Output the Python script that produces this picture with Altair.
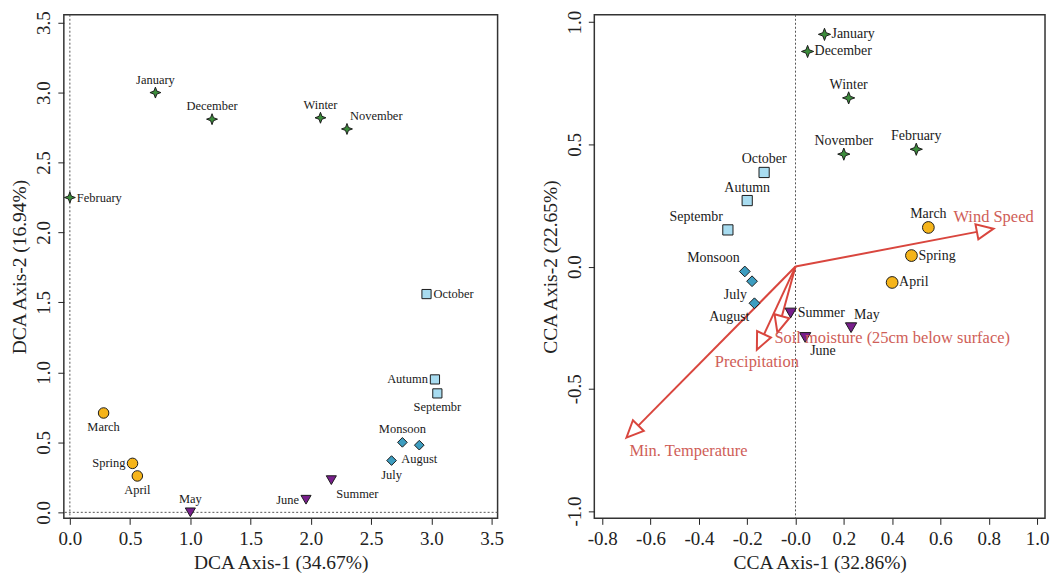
import math
import altair as alt
import pandas as pd

# ---------------- data ----------------
names = ["January", "December", "Winter", "November", "February",
         "October", "Autumn", "Septembr",
         "March", "Spring", "April",
         "Monsoon", "July", "August",
         "Summer", "June", "May"]
season = ["Winter"] * 5 + ["Autumn"] * 3 + ["Spring"] * 3 + ["Monsoon"] * 3 + ["Summer"] * 3

dca_x = [0.71, 1.18, 2.08, 2.30, 0.00, 2.96, 3.03, 3.05, 0.28, 0.52, 0.56, 2.76, 2.67, 2.90, 2.17, 1.96, 1.00]
dca_y = [3.00, 2.81, 2.82, 2.74, 2.25, 1.56, 0.95, 0.85, 0.71, 0.35, 0.26, 0.50, 0.37, 0.48, 0.23, 0.09, 0.00]

cca_x = [0.12, 0.05, 0.22, 0.20, 0.50, -0.13, -0.20, -0.28, 0.55, 0.48, 0.40, -0.21, -0.18, -0.17, -0.02, 0.04, 0.23]
cca_y = [0.95, 0.88, 0.69, 0.46, 0.48, 0.385, 0.27, 0.15, 0.16, 0.045, -0.065, -0.02, -0.06, -0.15, -0.19, -0.29, -0.25]

env_names = ["Wind Speed", "Min. Temperature", "Precipitation", "Soil moisture (25cm below surface)"]
env_x = [0.82, -0.70, -0.16, -0.075]
env_y = [0.155, -0.70, -0.34, -0.27]

dca_ticks = [0.0, 0.5, 1.0, 1.5, 2.0, 2.5, 3.0, 3.5]
cca_xticks = [-0.8, -0.6, -0.4, -0.2, 0.0, 0.2, 0.4, 0.6, 0.8, 1.0]
cca_yticks = [-1.0, -0.5, 0.0, 0.5, 1.0]

# ---------------- layout / style ----------------
FONT = "Liberation Serif"
TXT = "#1a1a1a"
RED = "#D9463E"
RED_TXT = "#CF5E58"

dca_pos = ["top", "top", "top", "topright", "right", "right", "left", "bottom",
           "bottom", "left", "bottom", "top", "bottom", "bottom", "bottomright", "left", "top"]
cca_pos = ["right", "right", "top", "top", "top", "top", "top", "topleft",
           "top", "right", "right", "topleft", "bottomleft", "bottomleft", "right", "bottomright", "topright"]
env_pos = ["above", "belowright", "below", "rightlow"]

offsets = {
    "top": (0, -13, "center"), "bottom": (0, 14, "center"),
    "right": (7, 0, "left"), "left": (-7, 0, "right"),
    "topright": (3, -13, "left"), "bottomright": (5, 14, "left"),
    "topleft": (-5, -13, "right"), "bottomleft": (-5, 14, "right"),
}
env_offsets = {
    "above": (0, -12, "center"), "belowright": (3, 13, "left"),
    "below": (0, 12, "center"), "rightlow": (-3, 5, "left"),
}

SEASONS = ["Winter", "Spring", "Summer", "Monsoon", "Autumn"]
STAR = "M0,-1L0.27,-0.27L1,0L0.27,0.27L0,1L-0.27,0.27L-1,0L-0.27,-0.27Z"
SHAPES = [STAR, "circle", "triangle-down", "diamond", "square"]
FILLS = ["#3B8C3B", "#F5B41A", "#781E8C", "#3D9DC0", "#A8DCF0"]
SIZES_L = [120, 85, 95, 115, 115]
SIZES_R = [150, 105, 110, 130, 140]

WL, HL = 435, 505
WR, HR = 452, 505
L_XD, L_YD = [-0.05, 3.55], [-0.043, 3.556]
R_XD, R_YD = [-0.833, 1.033], [-1.03, 1.03]

HEAD_LEN = 17
HEAD = "M0,0L-0.45,1L0.45,1Z"

dca = pd.DataFrame({"name": names, "season": season, "x": dca_x, "y": dca_y, "pos": dca_pos})
cca = pd.DataFrame({"name": names, "season": season, "x": cca_x, "y": cca_y, "pos": cca_pos})

# arrow geometry derived from the data and the panel scale
ppx = WR / (R_XD[1] - R_XD[0])
ppy = HR / (R_YD[1] - R_YD[0])
rows = []
for n, x, y, p in zip(env_names, env_x, env_y, env_pos):
    dxp, dyp = x * ppx, -y * ppy
    L = math.hypot(dxp, dyp)
    ux, uy = dxp / L, dyp / L
    rows.append({"name": n, "x": x, "y": y, "pos": p, "x0": 0.0, "y0": 0.0,
                 "xb": x - HEAD_LEN * ux / ppx, "yb": y + HEAD_LEN * uy / ppy,
                 "angle": math.degrees(math.atan2(dxp, -dyp)) % 360})
env = pd.DataFrame(rows)

axis_common = dict(grid=False, domain=False, ticks=True, tickSize=6, tickColor="#222",
                   labelFont=FONT, labelFontSize=19, labelColor="#222",
                   titleFont=FONT, titleFontSize=19.5, titleFontWeight="normal", titleColor="#222")


def enc_x(field, domain, title, values, expr=None):
    kw = dict(axis_common, title=title, values=values, labelPadding=5, titlePadding=5)
    if expr:
        kw["labelExpr"] = expr
    else:
        kw["format"] = ".1f"
    return alt.X(f"{field}:Q", scale=alt.Scale(domain=domain, nice=False, zero=False), axis=alt.Axis(**kw))


def enc_y(field, domain, title, values, expr=None):
    kw = dict(axis_common, title=title, values=values, labelAngle=270, labelAlign="center",
              labelBaseline="bottom", labelPadding=4, titlePadding=5)
    if expr:
        kw["labelExpr"] = expr
    else:
        kw["format"] = ".1f"
    return alt.Y(f"{field}:Q", scale=alt.Scale(domain=domain, nice=False, zero=False), axis=alt.Axis(**kw))


def points(df, X, Y, sizes):
    return alt.Chart(df).mark_point(filled=True, stroke="#1c1c1c", strokeWidth=1, opacity=1).encode(
        x=X, y=Y,
        shape=alt.Shape("season:N", scale=alt.Scale(domain=SEASONS, range=SHAPES), legend=None),
        fill=alt.Fill("season:N", scale=alt.Scale(domain=SEASONS, range=FILLS), legend=None),
        size=alt.Size("season:N", scale=alt.Scale(domain=SEASONS, range=sizes), legend=None),
    )


def labels(df, X, Y, offs, size, color):
    out = []
    for key, (dx, dy, align) in offs.items():
        if key in set(df["pos"]):
            out.append(alt.Chart(df).transform_filter(alt.datum.pos == key).mark_text(
                dx=dx, dy=dy, align=align, baseline="middle", font=FONT, fontSize=size, color=color
            ).encode(x=X, y=Y, text="name:N"))
    return out


# ---------------- left panel (DCA) ----------------
LX = enc_x("x", L_XD, "DCA Axis-1 (34.67%)", dca_ticks)
LY = enc_y("y", L_YD, "DCA Axis-2 (16.94%)", dca_ticks)
zero_df = pd.DataFrame({"x": [0.0], "y": [0.0]})
l_vline = alt.Chart(zero_df).mark_rule(color="#555", strokeDash=[2, 2], strokeWidth=1).encode(x=LX)
l_hline = alt.Chart(zero_df).mark_rule(color="#555", strokeDash=[2, 2], strokeWidth=1).encode(y=LY)
left = alt.layer(l_vline, l_hline, points(dca, LX, LY, SIZES_L),
                 *labels(dca, LX, LY, offsets, 12.5, TXT)).properties(width=WL, height=HL)

# ---------------- right panel (CCA) ----------------
rx_expr = "datum.value == 0 ? '-0.0' : (datum.value < 0 ? '-' : '') + format(abs(datum.value), '.1f')"
ry_expr = "(datum.value < 0 ? '-' : '') + format(abs(datum.value), '.1f')"
RX = enc_x("x", R_XD, "CCA Axis-1 (32.86%)", cca_xticks, rx_expr)
RY = enc_y("y", R_YD, "CCA Axis-2 (22.65%)", cca_yticks, ry_expr)
r_vline = alt.Chart(zero_df).mark_rule(color="#555", strokeDash=[2, 2], strokeWidth=1).encode(x=RX)
arrows = alt.Chart(env).mark_rule(color=RED, strokeWidth=2).encode(
    x=enc_x("x0", R_XD, "CCA Axis-1 (32.86%)", cca_xticks, rx_expr),
    y=enc_y("y0", R_YD, "CCA Axis-2 (22.65%)", cca_yticks, ry_expr),
    x2="xb:Q", y2="yb:Q")
heads = alt.Chart(env).mark_point(shape=HEAD, filled=False, color=RED, strokeWidth=2,
                                  size=(2 * HEAD_LEN) ** 2, opacity=1).encode(
    x=RX, y=RY, angle=alt.Angle("angle:Q", scale=None))
right = alt.layer(r_vline, arrows, heads, points(cca, RX, RY, SIZES_R),
                  *labels(cca, RX, RY, offsets, 14, TXT),
                  *labels(env, RX, RY, env_offsets, 16.5, RED_TXT)).properties(width=WR, height=HR)

chart = alt.hconcat(left, right, spacing=35).resolve_scale(
    x="independent", y="independent", size="independent"
).properties(
    padding={"left": 1, "top": 0, "right": 0, "bottom": 0}, background="white"
).configure_view(stroke="#333", strokeWidth=1.5)

chart.save("out.html", embed_options={"renderer": "svg", "actions": False})
